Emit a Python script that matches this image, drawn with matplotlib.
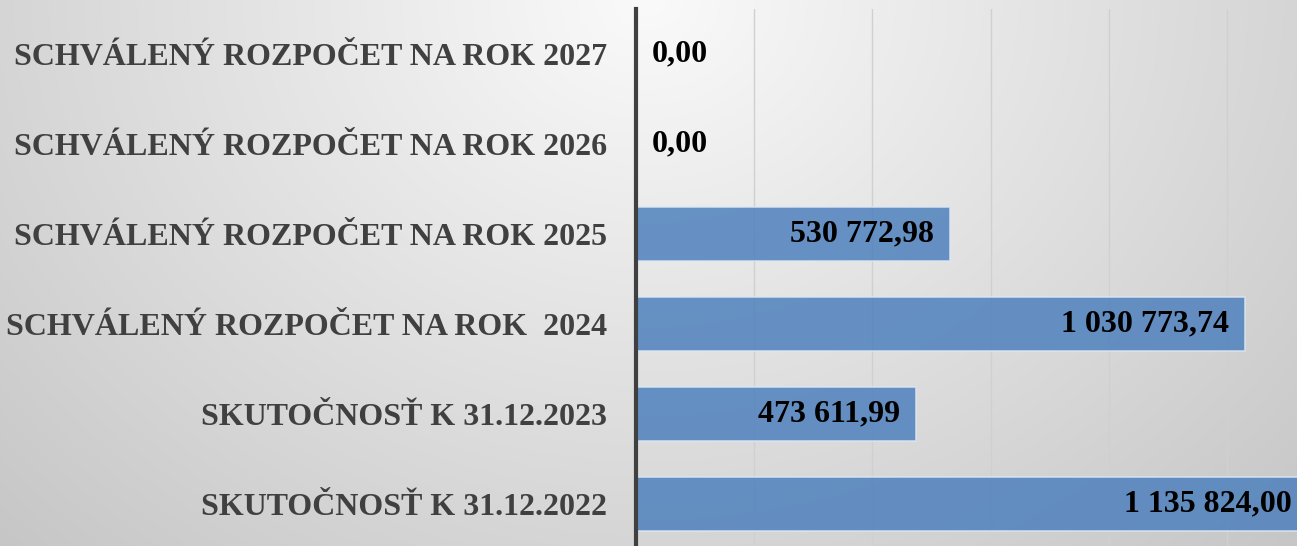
import matplotlib.pyplot as plt
import numpy as np

categories = ['SKUTOČNOSŤ K 31.12.2022', 'SKUTOČNOSŤ K 31.12.2023',
              'SCHVÁLENÝ ROZPOČET NA ROK  2024', 'SCHVÁLENÝ ROZPOČET NA ROK 2025',
              'SCHVÁLENÝ ROZPOČET NA ROK 2026', 'SCHVÁLENÝ ROZPOČET NA ROK 2027']
values = [1135824.00, 473611.99, 1030773.74, 530772.98, 0.0, 0.0]
labels = ['1 135 824,00', '473 611,99', '1 030 773,74', '530 772,98', '0,00', '0,00']

W, H = 1297, 546
fig = plt.figure(figsize=(W / 100, H / 100), dpi=100)

# background: radial grey gradient, light at top centre
bg = fig.add_axes([0, 0, 1, 1], zorder=-1)
yy, xx = np.mgrid[0:H, 0:W]
d = np.sqrt(((xx - 648) / 648.0) ** 2 + (yy / 546.0) ** 2) / np.sqrt(2)
v = np.clip(250 - 52 * d, 0, 255) / 255.0
bg.imshow(np.dstack([v, v, v]), aspect='auto', extent=[0, 1, 0, 1], origin='upper')
bg.axis('off')

left = 636 / W
top_px, bot_px = 9, 549
ax = fig.add_axes([left, (H - bot_px) / H, 1 - left, (bot_px - top_px) / H])
ax.set_facecolor('none')

y = np.arange(len(categories))
ax.barh(y, values, height=0.6, color='#4F81BD', alpha=0.85,
        edgecolor='#dce6f2', linewidth=1.2, zorder=2)

ax.set_xticks(np.arange(200000, 1200001, 200000))
ax.set_xlim(0, 1118400)
ax.set_ylim(-0.5, len(categories) - 0.5)
ax.xaxis.grid(True, color='#d0d0d0', linewidth=1, zorder=1)
ax.set_axisbelow(True)
ax.tick_params(axis='x', length=0, labelbottom=False)
ax.tick_params(axis='y', length=0, pad=21)

ax.set_yticks(y)
ax.set_yticklabels(categories, fontfamily='Liberation Serif', fontweight='bold',
                   fontsize=23, color='#404040')

for s in ['top', 'right', 'bottom']:
    ax.spines[s].set_visible(False)
ax.spines['left'].set_color('#404040')
ax.spines['left'].set_linewidth(3)
ax.spines['left'].set_zorder(5)

for yi, val, lab in zip(y, values, labels):
    if val == 0:
        ax.annotate(lab, (0, yi), xytext=(11.5, 0), textcoords='offset points',
                    ha='left', va='center', fontfamily='Liberation Serif',
                    fontweight='bold', fontsize=23, color='black', zorder=6)
    else:
        ax.annotate(lab, (val, yi), xytext=(-11.5, 0), textcoords='offset points',
                    ha='right', va='center', fontfamily='Liberation Serif',
                    fontweight='bold', fontsize=23, color='black', zorder=6,
                    annotation_clip=False)

fig.savefig('out.png', dpi=100)
